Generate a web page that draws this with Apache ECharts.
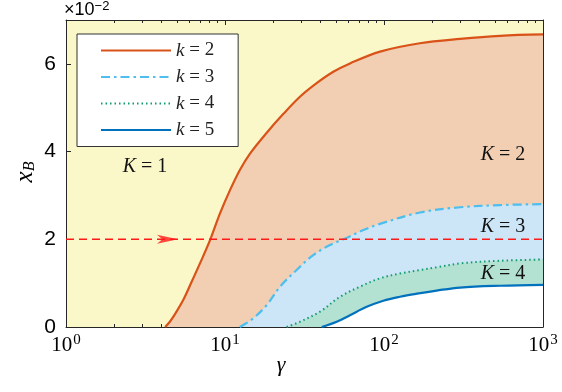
<!DOCTYPE html>
<html>
<head>
<meta charset="utf-8">
<script src="https://cdn.jsdelivr.net/npm/echarts@6/dist/echarts.min.js"></script>
<style>
  html, body { margin: 0; padding: 0; background: #fff; }
  #chart { width: 562px; height: 392px; }
</style>
</head>
<body>
<div id="chart"></div>
<script>
// values of x_B are kept in units of 1e-2 (the axis shows x10^-2)
const gammaK2 = [4.2, 4.5, 4.8, 5.47, 6.2, 6.96, 8.05, 9.3, 10.75, 12.4, 14.4, 18.3, 23.3, 29.6, 37.7, 48, 61.1, 94.4, 168, 301, 537, 1000];
const xbK2    = [0, 0.12, 0.27, 0.62, 1.05, 1.45, 1.98, 2.59, 3.12, 3.58, 3.96, 4.43, 4.86, 5.25, 5.56, 5.82, 6.01, 6.28, 6.47, 6.57, 6.64, 6.67];

const gammaK3 = [12.4, 13.5, 15.1, 18.3, 22.2, 28.2, 35.9, 45.7, 55.5, 74.1, 92.1, 168, 301, 537, 1000];
const xbK3    = [0, 0.08, 0.2, 0.5, 0.92, 1.30, 1.64, 1.87, 2.0, 2.21, 2.34, 2.61, 2.73, 2.78, 2.80];

const gammaK4 = [24.4, 29.6, 39.6, 52.9, 70.6, 94.4, 126, 168, 214, 301, 537, 1000];
const xbK4    = [0, 0.12, 0.35, 0.69, 0.92, 1.11, 1.22, 1.30, 1.36, 1.45, 1.51, 1.54];

const gammaK5 = [40.6, 50.4, 61.1, 77.8, 99, 126, 161, 214, 301, 537, 1000];
const xbK5    = [0, 0.12, 0.27, 0.46, 0.60, 0.69, 0.76, 0.83, 0.90, 0.94, 0.96];

const thresholdXb = 2;          // red dashed line
const arrowGamma = 4.35;        // where the arrow head sits
const yTicks = [0, 2, 4, 6];
const xMinorTicks = [2, 3, 4, 5, 6, 7, 8, 9, 20, 30, 40, 50, 60, 70, 80, 90, 200, 300, 400, 500, 600, 700, 800, 900];

const seriesNames = ['k = 2', 'k = 3', 'k = 4', 'k = 5'];

function pairs(xs, ys) {
  return xs.map((x, i) => [x, ys[i]]);
}

const axisColor = '#262626';
const serif = 'Liberation Serif';

function logAxis(pos, minor) {
  return {
    type: 'log',
    logBase: 10,
    min: 1,
    max: 1000,
    position: pos,
    splitLine: { show: false },
    axisLine: { show: !minor, onZero: false, lineStyle: { color: axisColor, width: 1 } },
    axisTick: minor
      ? { show: true, inside: true, length: 3, customValues: xMinorTicks, lineStyle: { color: axisColor } }
      : { show: true, inside: true, length: 5, lineStyle: { color: axisColor } },
    axisLabel: (pos === 'bottom' && !minor) ? {
      show: true,
      margin: 6,
      formatter: v => '{b|10}{sup|' + Math.round(Math.log10(v)) + '}',
      color: '#000',
      rich: {
        b: { fontFamily: serif, fontSize: 21, color: '#000' },
        sup: { fontFamily: serif, fontSize: 15, verticalAlign: 'top', padding: [0, 0, 10, 1], color: '#000' }
      }
    } : { show: false }
  };
}

function valAxis(pos) {
  return {
    type: 'value',
    min: 0,
    max: 7,
    position: pos,
    splitLine: { show: false },
    axisLine: { show: true, onZero: false, lineStyle: { color: axisColor, width: 1 } },
    axisTick: { show: true, inside: true, length: 5, customValues: yTicks, lineStyle: { color: axisColor } },
    axisLabel: pos === 'left' ? {
      show: true,
      customValues: yTicks,
      margin: 10,
      color: '#000',
      fontFamily: 'Liberation Sans',
      fontSize: 21
    } : { show: false }
  };
}

function curve(name, xs, ys, color, fill, lineType, width) {
  return {
    name: name,
    type: 'line',
    xAxisIndex: 0,
    yAxisIndex: 0,
    data: pairs(xs, ys),
    symbol: 'none',
    smooth: 0.35,
    lineStyle: { color: color, width: width, type: lineType },
    itemStyle: { color: color },
    areaStyle: { color: fill, opacity: 1 }
  };
}

function kText(x, y, n) {
  return {
    type: 'text', x: x, y: y, z: 100,
    style: {
      text: '{i|K} = ' + n, fontFamily: serif, fontSize: 20, align: 'center', verticalAlign: 'middle', fill: '#111',
      rich: { i: { fontFamily: serif, fontStyle: 'italic', fontSize: 20, fill: '#111' } }
    }
  };
}

const chart = echarts.init(document.getElementById('chart'), null, { renderer: 'canvas' });

const option = {
  animation: false,
  grid: {
    left: 66, right: 19, top: 20, bottom: 65,
    show: true,
    backgroundColor: '#FAF7C8',
    borderWidth: 0
  },
  xAxis: [logAxis('bottom', false), logAxis('bottom', true), logAxis('top', false), logAxis('top', true)],
  yAxis: [valAxis('left'), valAxis('right')],
  legend: {
    data: seriesNames,
    orient: 'vertical',
    left: 77,
    top: 34,
    itemWidth: 70,
    itemHeight: 14,
    itemGap: 7.5,
    padding: [7, 24, 7, 23],
    backgroundColor: '#fff',
    borderColor: '#333',
    borderWidth: 1,
    borderRadius: 0,
    itemStyle: { opacity: 0 },
    formatter: name => '{i|k} = ' + name.split('= ')[1],
    textStyle: {
      color: '#222',
      fontFamily: serif,
      fontSize: 19,
      lineHeight: 14,
      rich: {
        i: { fontFamily: serif, fontStyle: 'italic', fontSize: 19, color: '#222' }
      }
    }
  },
  graphic: [
    { type: 'text', left: 64, top: 0, z: 100, style: { text: '×10{s|−2}', fontFamily: 'Liberation Sans', fontSize: 18, fill: '#000',
      rich: { s: { fontFamily: 'Liberation Sans', fontSize: 13, verticalAlign: 'top', padding: [0, 0, 8, 0], fill: '#000' } } } },
    { type: 'text', x: 25, y: 172, rotation: Math.PI / 2, z: 100, style: { text: 'x{b|B}', fontFamily: serif, fontStyle: 'italic', fontSize: 25,
      align: 'center', verticalAlign: 'middle', fill: '#000',
      rich: { b: { fontFamily: serif, fontStyle: 'italic', fontSize: 16, verticalAlign: 'bottom', padding: [8, 0, 0, 0], fill: '#000' } } } },
    { type: 'text', x: 281, y: 365, z: 100, style: { text: 'γ', fontFamily: serif, fontStyle: 'italic', fontSize: 22, align: 'center', verticalAlign: 'middle', fill: '#000' } },
    kText(145, 167, 1),
    kText(503, 155, 2),
    kText(503, 227, 3),
    kText(503, 274, 4)
  ],
  series: [
    curve('k = 2', gammaK2, xbK2, '#D95319', '#F2CEB3', 'solid', 2.2),
    curve('k = 3', gammaK3, xbK3, '#4DBEEE', '#CCE6F7', [9, 4, 2.5, 4], 2.2),
    curve('k = 4', gammaK4, xbK4, '#119C70', '#B4E2D2', [1.5, 3], 2),
    curve('k = 5', gammaK5, xbK5, '#0072BD', '#FFFFFF', 'solid', 2.2),
    {
      name: 'threshold',
      type: 'line',
      data: [[1, thresholdXb], [1000, thresholdXb]],
      symbol: 'none',
      z: 5,
      lineStyle: { color: '#FF1A1A', width: 1.4, type: [8, 5] }
    },
    {
      name: 'arrow',
      type: 'scatter',
      data: [[arrowGamma, thresholdXb]],
      symbol: 'path://M0,0 L20,4.5 L0,9 L5,4.5 Z',
      symbolSize: [21, 9],
      z: 6,
      itemStyle: { color: '#FF1A1A' }
    }
  ]
};

chart.setOption(option);
</script>
</body>
</html>
